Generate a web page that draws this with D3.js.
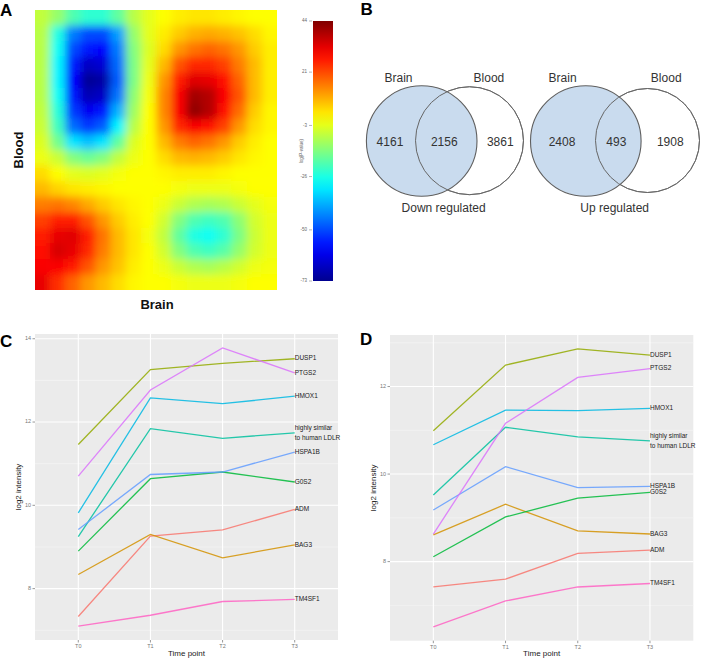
<!DOCTYPE html>
<html><head><meta charset="utf-8">
<script src="https://cdn.jsdelivr.net/npm/d3@7"></script>
<style>
body{margin:0;background:#fff;}
svg{display:block;font-family:Arial,"Liberation Sans",Helvetica,sans-serif;}
</style></head><body>
<svg id="fig" width="701" height="659"></svg>
<script>
// ---------------- DATA ----------------
// Panel A: RRHO-style heatmap, rows top->bottom, columns left->right (log P-value)
const heatValues = [
  [-7,-12,-20,-24,-24,-18,-8,-3,0,2,3,3,2,1,0,0],
  [-8,-26,-44,-50,-50,-40,-12,-3,2,6,9,10,9,7,4,1],
  [-8,-28,-50,-56,-58,-44,-14,-4,4,12,16,18,16,12,6,2],
  [-8,-30,-55,-66,-64,-46,-15,-3,8,20,25,25,22,15,8,2],
  [-8,-30,-58,-72,-70,-48,-15,-2,12,26,33,32,28,18,8,2],
  [-8,-28,-56,-68,-66,-45,-13,-1,14,30,40,38,30,20,8,2],
  [-7,-25,-52,-60,-56,-38,-11,0,14,30,42,38,28,17,6,1],
  [-6,-22,-46,-52,-48,-30,-8,0,12,25,30,28,22,12,4,1],
  [-4,-16,-32,-36,-32,-18,-4,0,8,15,18,16,12,6,2,0],
  [-2,-6,-14,-17,-14,-7,-2,0,4,8,9,8,6,3,1,0],
  [4,0,-3,-4,-3,-1,0,0,1,2,2,2,1,0,0,0],
  [8,5,3,2,1,0,0,0,0,-1,-2,-2,-2,-1,0,0],
  [15,16,14,10,6,3,1,0,-2,-6,-9,-10,-9,-6,-3,-1],
  [22,26,26,20,12,6,2,0,-5,-14,-20,-22,-20,-13,-5,-2],
  [26,32,33,26,16,8,3,-1,-7,-18,-26,-28,-24,-15,-6,-2],
  [28,34,32,25,15,8,3,0,-5,-14,-20,-22,-19,-12,-5,-2],
  [30,30,27,20,12,7,2,0,-2,-6,-9,-10,-8,-5,-2,-1],
  [32,24,18,12,8,4,1,0,0,-1,-2,-2,-2,-1,0,0]
];
const colorbarTicks = [44, 21, -3, -26, -50, -73];
const colorbarRange = [-73, 44];

// Panel B: Venn diagrams
const vennSetNames = ["Brain", "Blood"];
const vennTitles = ["Down regulated", "Up regulated"];
const vennDownCounts = [4161, 2156, 3861]; // brain only, both, blood only
const vennUpCounts = [2408, 493, 1908];

// Panels C and D: time courses
const timePoints = ["T0", "T1", "T2", "T3"];
const genes = ["ADM", "BAG3", "DUSP1", "G0S2", "highly similar|to human LDLR", "HMOX1", "HSPA1B", "PTGS2", "TM4SF1"];
const geneColors = ["#F8766D", "#D39200", "#93AA00", "#00BA38", "#00C19F", "#00B9E3", "#619CFF", "#DB72FB", "#FF61C3"];
const panelCValues = [
  [7.33, 9.26, 9.41, 9.90],
  [8.34, 9.30, 8.74, 9.05],
  [11.46, 13.26, 13.41, 13.52],
  [8.90, 10.64, 10.80, 10.56],
  [9.25, 11.84, 11.61, 11.74],
  [9.82, 12.58, 12.44, 12.62],
  [9.42, 10.74, 10.80, 11.28],
  [10.70, 12.77, 13.78, 13.18],
  [7.10, 7.36, 7.69, 7.74]
];
const panelDValues = [
  [7.42, 7.60, 8.19, 8.26],
  [8.61, 9.31, 8.70, 8.63],
  [10.99, 12.49, 12.86, 12.72],
  [8.11, 9.02, 9.45, 9.58],
  [9.52, 11.07, 10.85, 10.76],
  [10.67, 11.46, 11.45, 11.50],
  [9.18, 10.17, 9.69, 9.72],
  [8.63, 11.16, 12.21, 12.41],
  [6.51, 7.10, 7.42, 7.50]
];
const panelCTicks = [8, 10, 12, 14];
const panelDTicks = [8, 10, 12];

// ---------------- DRAW ----------------
const svg = d3.select("#fig");
svg.append("rect").attr("width", 701).attr("height", 659).attr("fill", "#fff");
const defs = svg.append("defs");

// ---- Panel A ----
const jet = d3.scaleLinear()
  .domain([-73, -58.4, -29.1, 0.1, 29.4, 44])
  .range(["#00008f", "#0000ff", "#00ffff", "#ffff00", "#ff0000", "#800000"])
  .clamp(true);

const hm = {x: 35, y: 10, w: 242, h: 280};
const nRows = heatValues.length, nCols = heatValues[0].length;
const hx = d3.scaleBand().domain(d3.range(nCols)).range([hm.x, hm.x + hm.w]);
const hy = d3.scaleBand().domain(d3.range(nRows)).range([hm.y, hm.y + hm.h]);

defs.append("clipPath").attr("id", "hmclip").append("rect")
  .attr("x", hm.x).attr("y", hm.y).attr("width", hm.w).attr("height", hm.h);
defs.append("filter").attr("id", "hmblur")
  .attr("x", "-0.2").attr("y", "-0.2").attr("width", "1.4").attr("height", "1.4")
  .append("feGaussianBlur").attr("stdDeviation", 4.5);

const cells = [];
heatValues.forEach((row, r) => row.forEach((v, c) => cells.push({r, c, v})));
const pad = 14;
const hmOuter = svg.append("g").attr("clip-path", "url(#hmclip)");
hmOuter.append("g").attr("filter", "url(#hmblur)")
  .selectAll("rect").data(cells).join("rect")
  .attr("x", d => hx(d.c) - (d.c === 0 ? pad : 0))
  .attr("y", d => hy(d.r) - (d.r === 0 ? pad : 0))
  .attr("width", d => hx.bandwidth() + 0.6 + (d.c === 0 || d.c === nCols - 1 ? pad : 0))
  .attr("height", d => hy.bandwidth() + 0.6 + (d.r === 0 || d.r === nRows - 1 ? pad : 0))
  .attr("fill", d => jet(d.v));

svg.append("text").attr("x", 20).attr("y", 150)
  .attr("transform", "rotate(-90,20,150)")
  .attr("text-anchor", "middle").attr("dominant-baseline", "middle")
  .attr("font-weight", "bold").attr("font-size", 13).attr("fill", "#111").text("Blood");
svg.append("text").attr("x", 157).attr("y", 309)
  .attr("text-anchor", "middle")
  .attr("font-weight", "bold").attr("font-size", 13).attr("fill", "#111").text("Brain");

// colorbar
const cb = {x: 313, y: 21, w: 20, h: 260};
const cbScale = d3.scaleLinear().domain(colorbarRange).range([cb.y + cb.h, cb.y]);
const grad = defs.append("linearGradient").attr("id", "jetgrad")
  .attr("x1", 0).attr("y1", 1).attr("x2", 0).attr("y2", 0);
d3.range(0, 1.0001, 0.05).forEach(t => {
  grad.append("stop").attr("offset", t)
    .attr("stop-color", jet(colorbarRange[0] + t * (colorbarRange[1] - colorbarRange[0])));
});
svg.append("rect").attr("x", cb.x).attr("y", cb.y).attr("width", cb.w).attr("height", cb.h)
  .attr("fill", "url(#jetgrad)");
const cbAxis = svg.append("g");
colorbarTicks.forEach(t => {
  cbAxis.append("line").attr("x1", cb.x - 4).attr("x2", cb.x - 1)
    .attr("y1", cbScale(t)).attr("y2", cbScale(t)).attr("stroke", "#888").attr("stroke-width", 0.6);
  cbAxis.append("text").attr("x", cb.x - 6).attr("y", cbScale(t))
    .attr("text-anchor", "end").attr("dominant-baseline", "middle")
    .attr("font-size", 4.5).attr("fill", "#666").text(t);
});
svg.append("text").attr("x", 302).attr("y", 151)
  .attr("transform", "rotate(-90,302,151)")
  .attr("text-anchor", "middle").attr("dominant-baseline", "middle")
  .attr("font-size", 4.5).attr("fill", "#666").text("log(P-value)");

// ---- Panel B ----
const venns = [
  {counts: vennDownCounts, title: vennTitles[0], brainC: [421.7, 141], bloodC: [469.5, 140.7]},
  {counts: vennUpCounts, title: vennTitles[1], brainC: [585.8, 141], bloodC: [647.5, 140.5]}
];
venns.forEach(v => {
  const totals = [v.counts[0] + v.counts[1], v.counts[1] + v.counts[2]];
  const rScale = d3.scaleSqrt().domain([0, d3.max(totals)]).range([0, 55.3]);
  const rB = rScale(totals[0]), rL = Math.max(rScale(totals[1]), 52);
  const g = svg.append("g");
  g.append("circle").attr("cx", v.bloodC[0]).attr("cy", v.bloodC[1]).attr("r", rL)
    .attr("fill", "#fff").attr("stroke", "#7a7a7a").attr("stroke-width", 1);
  g.append("circle").attr("cx", v.brainC[0]).attr("cy", v.brainC[1]).attr("r", rB)
    .attr("fill", "#c9dbee").attr("stroke", "#5f5f5f").attr("stroke-width", 1.1);
  g.append("circle").attr("cx", v.bloodC[0]).attr("cy", v.bloodC[1]).attr("r", rL)
    .attr("fill", "none").attr("stroke", "#666").attr("stroke-width", 1);
  const bL = v.brainC[0] - rB, bR = v.brainC[0] + rB;
  const lL = v.bloodC[0] - rL, lR = v.bloodC[0] + rL;
  const xs = [(bL + lL) / 2 - 1, (lL + bR) / 2 - 2, (bR + lR) / 2];
  const cy = 142.5;
  v.counts.forEach((n, i) => {
    g.append("text").attr("x", xs[i]).attr("y", cy).attr("text-anchor", "middle")
      .attr("dominant-baseline", "middle").attr("font-size", 12).attr("fill", "#333").text(n);
  });
  g.append("text").attr("x", v.brainC[0] - 0.42 * rB).attr("y", 79).attr("text-anchor", "middle")
    .attr("dominant-baseline", "middle").attr("font-size", 12).attr("fill", "#333").text(vennSetNames[0]);
  g.append("text").attr("x", v.bloodC[0] + 0.36 * rL).attr("y", 79).attr("text-anchor", "middle")
    .attr("dominant-baseline", "middle").attr("font-size", 12).attr("fill", "#333").text(vennSetNames[1]);
  g.append("text").attr("x", (v.brainC[0] + v.bloodC[0]) / 2 - 2).attr("y", 209).attr("text-anchor", "middle")
    .attr("dominant-baseline", "middle").attr("font-size", 12).attr("fill", "#333").text(v.title);
});

// ---- Panels C, D ----
function linePanel(values, box, ticks) {
  const g = svg.append("g");
  const all = values.flat();
  const [mn, mx] = d3.extent(all);
  const ex = (mx - mn) * 0.05;
  const y = d3.scaleLinear().domain([mn - ex, mx + ex]).range([box.y + box.h, box.y]);
  const x = d3.scalePoint().domain(timePoints).range([box.x, box.x + box.w]).padding(0.6);
  g.append("rect").attr("x", box.x).attr("y", box.y).attr("width", box.w).attr("height", box.h)
    .attr("fill", "#ebebeb");
  const minor = ticks.map(t => t - 1).concat([ticks[ticks.length - 1] + 1])
    .filter(t => y(t) >= box.y && y(t) <= box.y + box.h);
  g.selectAll(".minor").data(minor).join("line")
    .attr("x1", box.x).attr("x2", box.x + box.w)
    .attr("y1", d => y(d)).attr("y2", d => y(d))
    .attr("stroke", "#f7f7f7").attr("stroke-width", 0.6);
  g.selectAll(".majy").data(ticks).join("line")
    .attr("x1", box.x).attr("x2", box.x + box.w)
    .attr("y1", d => y(d)).attr("y2", d => y(d))
    .attr("stroke", "#fff").attr("stroke-width", 1.1);
  g.selectAll(".majx").data(timePoints).join("line")
    .attr("x1", d => x(d)).attr("x2", d => x(d))
    .attr("y1", box.y).attr("y2", box.y + box.h)
    .attr("stroke", "#fff").attr("stroke-width", 1.1);
  // axes ticks
  ticks.forEach(t => {
    g.append("line").attr("x1", box.x - 2.5).attr("x2", box.x).attr("y1", y(t)).attr("y2", y(t))
      .attr("stroke", "#555").attr("stroke-width", 0.6);
    g.append("text").attr("x", box.x - 4).attr("y", y(t)).attr("text-anchor", "end")
      .attr("dominant-baseline", "middle").attr("font-size", 5.5).attr("fill", "#777").text(t);
  });
  timePoints.forEach(t => {
    g.append("line").attr("x1", x(t)).attr("x2", x(t)).attr("y1", box.y + box.h).attr("y2", box.y + box.h + 2.5)
      .attr("stroke", "#555").attr("stroke-width", 0.6);
    g.append("text").attr("x", x(t)).attr("y", box.y + box.h + 6.5).attr("text-anchor", "middle")
      .attr("dominant-baseline", "middle").attr("font-size", 5.5).attr("fill", "#777").text(t);
  });
  // lines
  const line = d3.line().x((d, i) => x(timePoints[i])).y(d => y(d));
  g.selectAll(".series").data(values).join("path")
    .attr("d", d => line(d)).attr("fill", "none")
    .attr("stroke", (d, i) => geneColors[i]).attr("stroke-width", 1.3).attr("stroke-opacity", 0.85);
  // direct labels
  values.forEach((vals, i) => {
    const parts = genes[i].split("|");
    const yEnd = y(vals[vals.length - 1]);
    const lh = 10;
    parts.forEach((p, k) => {
      g.append("text").attr("x", x(timePoints[timePoints.length - 1])).attr("y", yEnd + (k - (parts.length - 1) / 2) * lh)
        .attr("dominant-baseline", "middle").attr("font-size", 6.5).attr("fill", "#222").text(p);
    });
  });
  // titles
  g.append("text").attr("x", box.x + box.w / 2).attr("y", 654).attr("text-anchor", "middle")
    .attr("dominant-baseline", "middle").attr("font-size", 8).attr("fill", "#222").text("Time point");
  const ty = box.y + box.h / 2, tx = box.x - 16;
  g.append("text").attr("x", tx).attr("y", ty).attr("transform", `rotate(-90,${tx},${ty})`)
    .attr("text-anchor", "middle").attr("dominant-baseline", "middle")
    .attr("font-size", 8).attr("fill", "#222").text("log2 intensity");
}
linePanel(panelCValues, {x: 35, y: 334, w: 303, h: 306}, panelCTicks);
linePanel(panelDValues, {x: 390, y: 335, w: 303.3, h: 305.7}, panelDTicks);

// panel letters
[["A", 0, 15.5], ["B", 360.5, 15], ["C", 0, 347], ["D", 360, 345]].forEach(([t, x, y]) => {
  svg.append("text").attr("x", x).attr("y", y).attr("font-weight", "bold")
    .attr("font-size", 17).attr("fill", "#000").text(t);
});
</script>
</body></html>
